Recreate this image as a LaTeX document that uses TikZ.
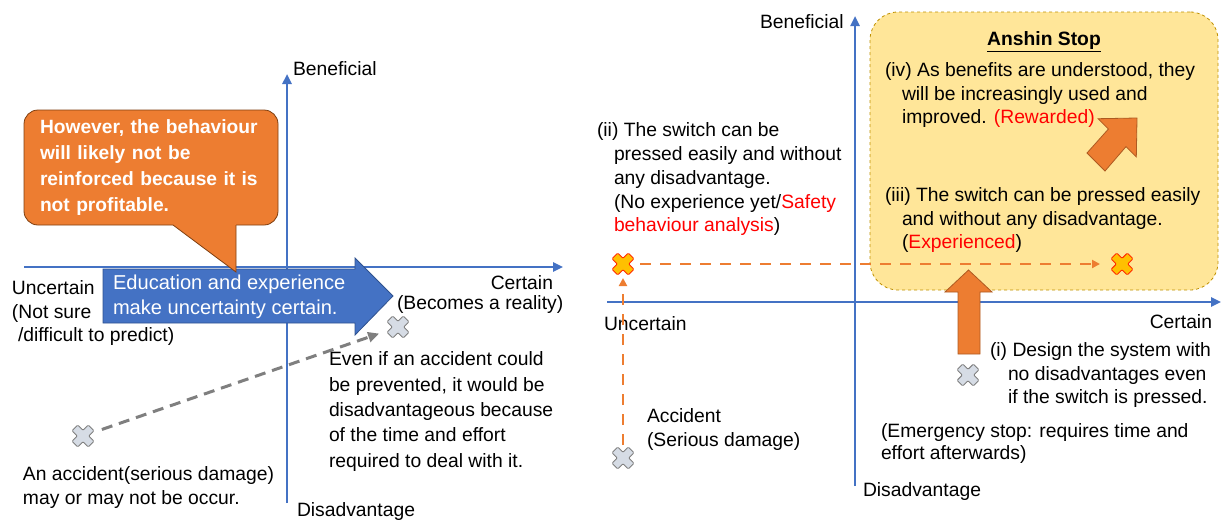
\documentclass[tikz,border=0pt]{standalone}
\usepackage{fontspec}
\setmainfont{Liberation Sans}
\usetikzlibrary{arrows.meta}
\definecolor{axblue}{HTML}{4472C4}
\definecolor{bluedark}{HTML}{2F528F}
\definecolor{orng}{HTML}{ED7D31}
\definecolor{orngdark}{HTML}{AE5A21}
\definecolor{calloutedge}{HTML}{7F3F10}
\definecolor{xfill}{HTML}{D6DCE5}
\definecolor{xedge}{HTML}{7F7F7F}
\definecolor{yfill}{HTML}{FFC000}
\definecolor{yedge}{HTML}{FF2A00}
\definecolor{boxfill}{HTML}{FFE699}
\definecolor{boxedge}{HTML}{BF9000}
\definecolor{txtred}{HTML}{FF0000}
\definecolor{dgray}{HTML}{7F7F7F}
\tikzset{
  every node/.style={inner sep=0pt, outer sep=0pt},
  txt/.style={font=\fontsize{19.3}{24}\selectfont, align=left, anchor=north west},
  axis/.style={draw=axblue, line width=2.4pt, -{Triangle[length=10pt,width=9pt]}},
  xspot/.style={circle, minimum size=40pt},
  xcross/.pic={\path[rotate=45, rounded corners=1pt, line width=0.9pt, pic actions]
     (4,4) -- (11.5,4) -- (11.5,-4) -- (4,-4) -- (4,-11.5) -- (-4,-11.5) -- (-4,-4)
     -- (-11.5,-4) -- (-11.5,4) -- (-4,4) -- (-4,11.5) -- (4,11.5) -- cycle;},
  gdash/.style={draw=dgray, line width=3pt, dash pattern=on 11pt off 7pt, -{Triangle[length=11pt,width=10pt]}},
  odash/.style={draw=orng, line width=2.6pt, dash pattern=on 11pt off 9pt, -{Triangle[length=8pt,width=8pt]}},
  barrow/.style={fill=orng, draw=orngdark, line width=0.8pt},
  callout/.style={rectangle, rounded corners=14pt, fill=orng, draw=calloutedge, line width=0.8pt,
     minimum width=254pt, minimum height=115pt, text width=222pt, align=left, text=white,
     font=\fontsize{19.2}{26}\selectfont\bfseries},
  ybox/.style={rectangle, rounded corners=28pt, fill=boxfill, draw=boxedge, dashed, line width=0.8pt,
     minimum width=348pt, minimum height=278pt},
}
\begin{document}
\begin{tikzpicture}[x=1pt,y=-1pt]
\useasboundingbox (0,0) rectangle (1225,520);
% ---------------- left chart ----------------
\coordinate (lvb) at (287,503);
\coordinate (lvt) at (287,74);
\coordinate (lhl) at (24,267);
\coordinate (lhr) at (563,267);
\draw[axis] (lvb) -- (lvt);
\draw[axis] (lhl) -- (lhr);
% blue block arrow
\path[fill=axblue, draw=bluedark, line width=0.8pt] (103,269) -- (355,269) -- (355,258) -- (393,296)
   -- (355,335) -- (355,323) -- (103,323) -- cycle;
\node[txt, text=white, font=\fontsize{20.1}{25}\selectfont] (edu) at (113,275)
   {Education and experience\\make uncertainty certain.};
% callout
\node[callout] (call) at (151,167.5) {However, the behaviour\\will likely not be\\reinforced because it is\\not profitable.};
\fill[orng] (173,222) -- (173,225) -- (236,272) -- (236,222) -- cycle;
\draw[calloutedge, line width=0.8pt] (173,225) -- (236,272) -- (236,225);
% markers
\node[xspot] (xl1) at (83,436) {};
\node[xspot] (xl2) at (398,327) {};
\pic[fill=xfill, draw=xedge] at (xl1) {xcross};
\pic[fill=xfill, draw=xedge] at (xl2) {xcross};
\draw[gdash] (xl1) -- (xl2);
% texts
\node[txt] (lben) at (293,62) {Beneficial};
\node[txt, font=\fontsize{19.3}{23.5}\selectfont] (lunc) at (12,281) {Uncertain\\(Not sure\\\hspace*{6pt}/difficult to predict)};
\node[txt, anchor=north east] (lcert) at (553,276) {Certain};
\node[txt] (lbecome) at (397,296) {(Becomes a reality)};
\node[txt, font=\fontsize{19.3}{25.3}\selectfont] (even) at (329,352) {Even if an accident could\\be prevented, it would be\\disadvantageous because\\of the time and effort\\required to deal with it.};
\node[txt] (acc) at (23,467) {An accident(serious damage)\\may or may not be occur.};
\node[txt] (ldis) at (297,503) {Disadvantage};
% ---------------- right chart ----------------
\node[ybox] (anshin) at (1044,151) {};
\coordinate (rvb) at (855,486);
\coordinate (rvt) at (855,16);
\coordinate (rhl) at (607,302);
\coordinate (rhr) at (1221,302);
\draw[axis] (rvb) -- (rvt);
\draw[axis] (rhl) -- (rhr);
\node[font=\fontsize{19.3}{24}\selectfont\bfseries] (title) at (1044,42) {\underline{Anshin Stop}};
\node[txt, font=\fontsize{19.3}{23.5}\selectfont] (iv) at (885,63) {(iv) As benefits are understood, they\\\hspace*{17pt}will be increasingly used and\\\hspace*{17pt}improved. \textcolor{txtred}{(Rewarded)}};
\node[txt, font=\fontsize{19.3}{23.5}\selectfont] (iii) at (885,188) {(iii) The switch can be pressed easily\\\hspace*{17pt}and without any disadvantage.\\\hspace*{17pt}(\textcolor{txtred}{Experienced})};
\node[txt, font=\fontsize{19.3}{23.7}\selectfont] (ii) at (597,123) {(ii) The switch can be\\\hspace*{17pt}pressed easily and without\\\hspace*{17pt}any disadvantage.\\\hspace*{17pt}(No experience yet/\textcolor{txtred}{Safety}\\\hspace*{17pt}\textcolor{txtred}{behaviour analysis})};
\node[txt] (runc) at (604,317) {Uncertain};
\node[txt, anchor=north east] (rcert) at (1212,315) {Certain};
\node[txt] (rben) at (760,15) {Beneficial};
\node[txt] (rdis) at (863,483) {Disadvantage};
\node[txt] (acc2) at (647,409) {Accident\\(Serious damage)};
\node[txt, font=\fontsize{19.3}{23.5}\selectfont] (idesign) at (990,343) {(i) Design the system with\\\hspace*{18pt}no disadvantages even\\\hspace*{18pt}if the switch is pressed.};
\node[txt, font=\fontsize{19.3}{22}\selectfont] (emerg) at (881,424) {(Emergency stop: requires time and\\effort afterwards)};
% markers
\node[xspot] (xr1) at (623,264) {};
\node[xspot] (xr2) at (1122,264) {};
\node[xspot] (xr3) at (623,458) {};
\node[xspot] (xr4) at (968,375) {};
\draw[odash, shorten >=2pt, shorten <=-3pt] (xr1) -- (xr2);
\draw[odash, shorten <=-7pt, shorten >=-6pt] (xr3) -- (xr1);
\pic[fill=yfill, draw=yedge] at (xr1) {xcross};
\pic[fill=yfill, draw=yedge] at (xr2) {xcross};
\pic[fill=xfill, draw=xedge] at (xr3) {xcross};
\pic[fill=xfill, draw=xedge] at (xr4) {xcross};
% orange block arrows
\path[barrow] (958,354) -- (958,292) -- (945,292) -- (968.5,270) -- (992,292) -- (980,292) -- (980,354) -- cycle;
\path[barrow] (1087,153) -- (1108.4,129) -- (1098.1,118.7) -- (1137,118) -- (1136.3,156.9) -- (1126,146.6) -- (1105,171) -- cycle;
\end{tikzpicture}
\end{document}
